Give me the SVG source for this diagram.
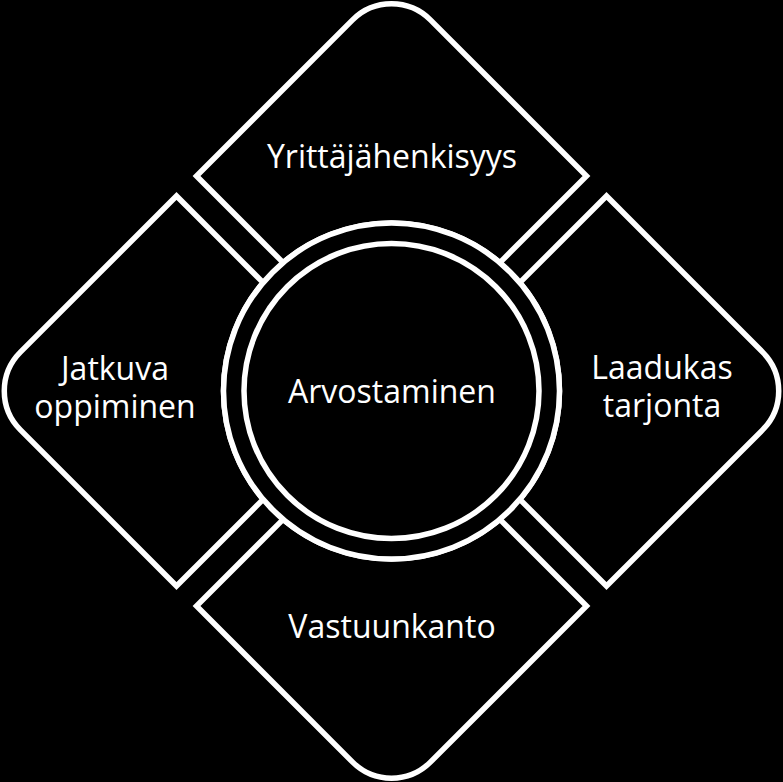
<svg xmlns="http://www.w3.org/2000/svg" xmlns:xlink="http://www.w3.org/1999/xlink" width="783" height="782" viewBox="0 0 783 782">
  <style>
    .seg { fill: #000; stroke: #fff; stroke-width: 5.5; stroke-linejoin: miter; }
    .ring { fill: #000; stroke: #fff; stroke-width: 5.5; }
    .lbl { font-family: "Open Sans", "Noto Sans", "Liberation Sans", sans-serif; font-size: 32px; fill: #fff; text-anchor: middle; }
  </style>
  <defs>
    <path id="segShape" d="M -195,-215 L -108.37,-128.37 A 168 168 0 0 1 108.37,-128.37 L 195,-215 L 38.89,-371.11 A 55 55 0 0 0 -38.89,-371.11 Z"/>
  </defs>
  <rect x="0" y="0" width="783" height="782" fill="#000"/>
  <g id="connectors"></g>
  <g id="node-top">
    <use xlink:href="#segShape" href="#segShape" class="seg" transform="translate(391.5,391)"/>
    <text class="lbl" x="392" y="168">Yrittäjähenkisyys</text>
  </g>
  <g id="node-right">
    <use xlink:href="#segShape" href="#segShape" class="seg" transform="translate(391.5,391) rotate(90)"/>
    <text class="lbl" x="662" y="379">Laadukas</text>
    <text class="lbl" x="662" y="417">tarjonta</text>
  </g>
  <g id="node-bottom">
    <use xlink:href="#segShape" href="#segShape" class="seg" transform="translate(391.5,391) rotate(180)"/>
    <text class="lbl" x="392" y="638">Vastuunkanto</text>
  </g>
  <g id="node-left">
    <use xlink:href="#segShape" href="#segShape" class="seg" transform="translate(391.5,391) rotate(270)"/>
    <text class="lbl" x="115" y="380">Jatkuva</text>
    <text class="lbl" x="115" y="418">oppiminen</text>
  </g>
  <g id="node-center">
    <circle class="ring" cx="391.5" cy="391" r="168"/>
    <circle class="ring" cx="391.5" cy="391" r="147.5"/>
    <text class="lbl" x="392" y="403">Arvostaminen</text>
  </g>
</svg>
